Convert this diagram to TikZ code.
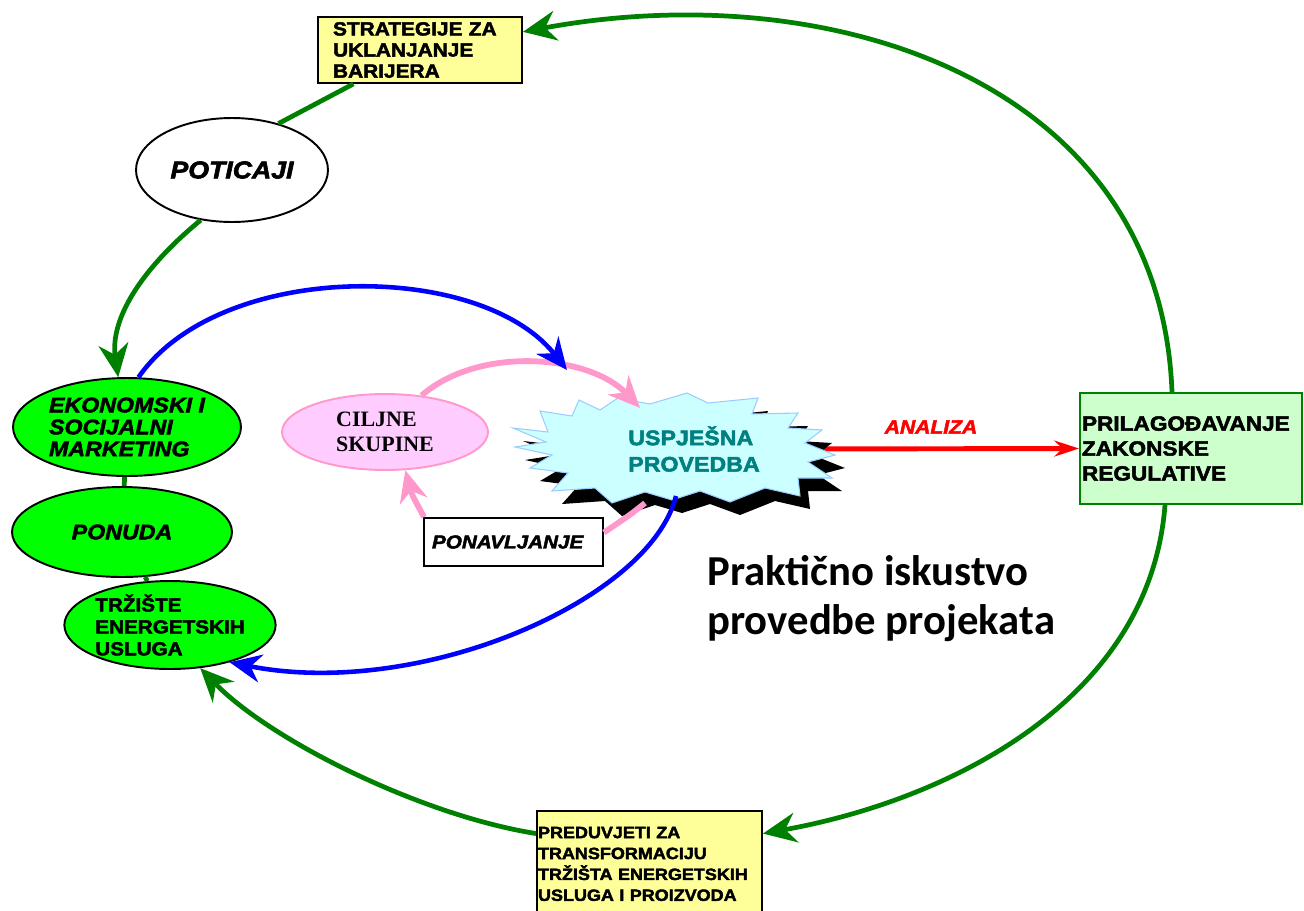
\documentclass[tikz,border=0pt]{standalone}
\usepackage{fontspec}
\setmainfont{Liberation Sans}
\newfontfamily\widefont{Liberation Sans}[FakeStretch=1.1,
  BoldFeatures={FakeBold=2.4},BoldItalicFeatures={FakeBold=2.4}]
\newfontfamily\serfont{Liberation Serif}
\newfontfamily\califont{Carlito}
\usetikzlibrary{arrows.meta,shapes.geometric}
\definecolor{dkgreen}{RGB}{0,128,0}
\definecolor{lime}{RGB}{0,255,0}
\definecolor{yel}{RGB}{255,255,153}
\definecolor{mint}{RGB}{204,255,204}
\definecolor{pinkline}{RGB}{255,153,204}
\definecolor{pinkfill}{RGB}{255,204,255}
\definecolor{burstfill}{RGB}{204,255,255}
\definecolor{burstline}{RGB}{153,204,255}
\definecolor{tealtxt}{RGB}{0,128,128}
\newcommand{\fsz}[2]{\fontsize{#1}{#2}\selectfont}
\newcommand{\burst}{(513,428) -- (548,432) -- (540,411) -- (572,416) -- (579,400)
  -- (600,410) -- (618,398) -- (650,404) -- (687,393) -- (708,403) -- (758,398)
  -- (752,414) -- (798,413) -- (788,428) -- (822,430) -- (805,443) -- (835,455)
  -- (808,462) -- (832,478) -- (798,478) -- (800,496) -- (765,488) -- (730,502)
  -- (700,491) -- (672,500) -- (645,492) -- (612,503) -- (595,488) -- (552,491)
  -- (568,473) -- (530,468) -- (552,455) -- (515,447) -- (546,442) -- cycle}
\tikzset{
  ell/.style={ellipse,draw=black,line width=1.1pt,inner sep=0pt,align=left},
  box/.style={rectangle,draw=black,line width=1.1pt,align=left,inner ysep=0pt},
  grline/.style={dkgreen,line width=2.7pt},
  grarr/.style={grline,-{Stealth[length=19pt,width=17pt]}},
  blarr/.style={blue,line width=2.6pt,-{Stealth[length=18pt,width=16pt]}},
  pkline/.style={pinkline,line width=3.3pt},
  pkarr/.style={pkline,-{Stealth[length=18pt,width=16pt]}},
  redarr/.style={red,line width=2.8pt,-{Stealth[length=14pt,width=9pt]}},
}
\begin{document}
\begin{tikzpicture}[x=0.02cm,y=-0.02cm]
   \useasboundingbox (0,0) rectangle (1304,910);
   \node[box,fill=yel,minimum height=1.32cm,text width=3.48cm,inner xsep=0.3cm,
     font=\widefont\bfseries\fsz{10.8}{12}] (strat) at (420,50)
     {STRATEGIJE ZA\\UKLANJANJE\\BARIJERA};
   \node[ell,fill=white,minimum width=3.84cm,minimum height=2.08cm,
     font=\widefont\bfseries\itshape\fsz{13.8}{14}] (poti) at (232,170) {POTICAJI};
   \node[ell,fill=lime,minimum width=4.56cm,minimum height=1.96cm,
     font=\widefont\bfseries\itshape\fsz{12}{12.5}] (ekon) at (127,427)
     {EKONOMSKI I\\SOCIJALNI\\MARKETING};
   \node[ell,fill=lime,minimum width=4.4cm,minimum height=1.8cm,
     font=\widefont\bfseries\itshape\fsz{12}{12}] (ponuda) at (122,532) {PONUDA};
   \node[ell,fill=lime,minimum width=4.2cm,minimum height=1.76cm,
     font=\widefont\bfseries\fsz{10.7}{12.5}] (trz) at (170,625)
     {TRŽIŠTE\\ENERGETSKIH\\USLUGA};
   \node[ell,draw=pinkline,fill=pinkfill,minimum width=4.12cm,minimum height=1.52cm,
     font=\serfont\bfseries\fsz{12.5}{14.2}] (cilj) at (385,432) {CILJNE\\SKUPINE};
   \node[box,fill=white,minimum height=0.96cm,text width=3.26cm,inner xsep=0.16cm,
     font=\widefont\bfseries\itshape\fsz{10.7}{11}] (ponav) at (513.5,542) {PONAVLJANJE};
   \node[box,draw=dkgreen,fill=mint,minimum height=2.22cm,text width=4.36cm,inner xsep=0.04cm,
     font=\widefont\bfseries\fsz{11.7}{14.2}] (pril) at (1191,448.5)
     {PRILAGOĐAVANJE\\ZAKONSKE\\REGULATIVE};
   \node[box,fill=yel,anchor=north,minimum height=2.12cm,text width=4.46cm,inner xsep=0.02cm,
     font=\widefont\bfseries\fsz{9.3}{11.9}] (pred) at (649.5,810)
     {PREDUVJETI ZA\\TRANSFORMACIJU\\TRŽIŠTA ENERGETSKIH\\USLUGA I PROIZVODA};
   \node[text=red,font=\widefont\bfseries\itshape\fsz{10.9}{11}] (ana) at (931,427) {ANALIZA};
   \node[anchor=north west,inner sep=0pt,align=left,font=\califont\bfseries\fsz{24.3}{28}]
     (prak) at (707,555) {Praktično iskustvo\\provedbe projekata};
   % ports on the starburst
   \coordinate (uspA) at (567,370);
   \coordinate (uspB) at (640,408);
   \coordinate (uspC) at (645,503);
   \coordinate (uspD) at (676,496);
   \coordinate (uspE) at (790,449);
   \draw[redarr] (uspE) -- (pril.west);
   \fill[black,shift={(10,13)}] \burst;
   \filldraw[fill=burstfill,draw=burstline,line width=0.6pt] \burst;
   \node[text=tealtxt,font=\widefont\bfseries\fsz{12}{15},align=left] (usp) at (694,449)
     {USPJEŠNA\\PROVEDBA};
   % outer loop
   \draw[grline] (strat.207) -- (poti.45);
   \draw[grarr] (poti.238) .. controls (140,270) and (110,320) .. (ekon.100);
   \draw[grline] (ekon) -- (ponuda);
   \draw[grline] (ponuda) -- (trz);
   \draw[grarr] ([xshift=-0.38cm]pril.north) .. controls (1160,80) and (830,-25) .. (strat.10);
   \draw[grarr] ([xshift=-0.52cm]pril.south) .. controls (1150,700) and (950,800) .. (pred.15);
   \draw[grarr] (pred.165) .. controls (420,815) and (270,740) .. (trz.-55);
   % inner loop
   \draw[pkarr] (cilj.45) .. controls (480,345) and (590,355) .. (uspB);
   \draw[pkline] (uspC) .. controls (630,515) .. (ponav.6);
   \draw[pkarr] ([xshift=0.02cm]ponav.north west) .. controls (412,495) .. (cilj.-62);
   \draw[blarr] (ekon.77) .. controls (220,260) and (480,260) .. (uspA);
   \draw[blarr] (uspD) .. controls (650,600) and (420,700) .. (trz.-32);
\end{tikzpicture}
\end{document}
